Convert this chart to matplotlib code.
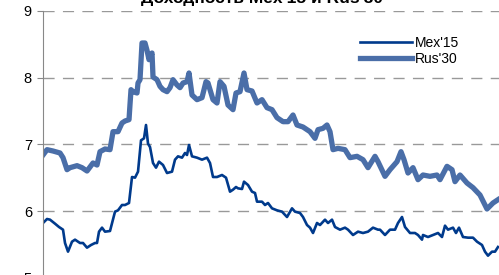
import matplotlib.pyplot as plt
import numpy as np

plt.rcParams['font.family'] = ['Liberation Sans', 'DejaVu Sans']

# trading days from start of the window
mex_day = [0, 4, 7, 12, 16, 20, 22, 25, 29, 32, 37, 40, 44, 48, 52, 54, 56, 59, 62, 67,
           72, 75, 79, 82, 86, 89, 92, 95, 98, 101, 103, 105, 107, 110, 113, 116, 120, 124,
           129, 132, 135, 139, 142, 144, 146, 149, 154, 159, 164, 167, 170, 174, 179, 183,
           187, 190, 193, 195, 199, 201, 205, 209, 212, 214, 219, 222, 225, 229, 234, 239,
           244, 249, 252, 257, 260, 264, 267, 270, 274, 277, 282, 285, 289, 292, 297, 302,
           305, 310, 315, 320, 325, 330, 335, 337, 342, 347, 352, 355, 359, 362, 367, 372,
           375, 379, 380, 385, 390, 395, 399, 402, 405, 410, 413, 416, 420, 425, 430, 434,
           439, 442, 445, 449, 452, 455]
mex_yld = [5.82, 5.88, 5.87, 5.81, 5.76, 5.72, 5.52, 5.39, 5.54, 5.57, 5.52, 5.52, 5.45,
           5.49, 5.52, 5.52, 5.69, 5.75, 5.69, 5.70, 5.99, 6.01, 6.09, 6.09, 6.12, 6.51,
           6.50, 6.59, 7.06, 7.09, 7.29, 7.01, 6.96, 6.72, 6.65, 6.74, 6.69, 6.57, 6.59,
           6.77, 6.82, 6.80, 6.87, 6.84, 6.99, 6.82, 6.80, 6.77, 6.80, 6.72, 6.51, 6.51,
           6.54, 6.50, 6.29, 6.32, 6.36, 6.34, 6.33, 6.44, 6.39, 6.29, 6.27, 6.14, 6.14,
           6.09, 6.12, 6.04, 6.01, 5.99, 5.91, 6.04, 5.99, 5.97, 5.91, 5.79, 5.75, 5.67,
           5.82, 5.79, 5.87, 5.82, 5.87, 5.76, 5.72, 5.75, 5.72, 5.64, 5.69, 5.67, 5.69,
           5.75, 5.72, 5.72, 5.64, 5.72, 5.72, 5.82, 5.91, 5.76, 5.67, 5.67, 5.64, 5.57,
           5.64, 5.61, 5.64, 5.67, 5.61, 5.78, 5.72, 5.75, 5.67, 5.75, 5.61, 5.60, 5.60,
           5.54, 5.49, 5.39, 5.33, 5.39, 5.39, 5.46]

rus_day = [0, 4, 10, 17, 20, 24, 27, 34, 39, 44, 50, 54, 57, 62, 67, 70, 75, 79, 82, 86,
           87, 88, 90, 94, 95, 97, 99, 102, 104, 106, 109, 110, 114, 117, 120, 124, 127, 130,
           134, 137, 140, 144, 146, 149, 154, 159, 163, 165, 170, 174, 177, 181, 185, 190,
           193, 197, 201, 204, 209, 214, 219, 224, 229, 234, 240, 245, 250, 254, 260, 267,
           272, 275, 280, 284, 287, 290, 295, 302, 307, 314, 320, 325, 332, 335, 342, 347,
           354, 358, 361, 365, 370, 375, 380, 387, 394, 397, 404, 409, 412, 417, 424, 430,
           437, 444, 450, 455]
rus_yld = [6.84, 6.92, 6.90, 6.87, 6.80, 6.62, 6.65, 6.68, 6.65, 6.60, 6.72, 6.69, 6.89,
           6.93, 6.92, 7.19, 7.19, 7.32, 7.35, 7.37, 7.60, 7.82, 7.79, 7.77, 7.92, 7.97,
           8.52, 8.52, 8.41, 8.27, 8.37, 8.01, 7.97, 7.87, 7.82, 7.79, 7.85, 7.97, 7.89,
           7.85, 7.92, 7.94, 8.07, 7.74, 7.67, 7.70, 7.94, 7.92, 7.67, 7.62, 7.94, 7.87,
           7.59, 7.52, 7.77, 7.79, 8.07, 7.82, 7.80, 7.62, 7.67, 7.55, 7.52, 7.40, 7.34,
           7.34, 7.44, 7.29, 7.26, 7.19, 7.09, 7.22, 7.24, 7.29, 7.19, 6.92, 6.94, 6.92,
           6.80, 6.82, 6.77, 6.65, 6.82, 6.74, 6.52, 6.62, 6.74, 6.89, 6.77, 6.57, 6.65,
           6.47, 6.54, 6.52, 6.54, 6.47, 6.67, 6.62, 6.44, 6.54, 6.42, 6.35, 6.24, 6.03,
           6.12, 6.17]

fig = plt.figure(figsize=(4.99, 2.75), dpi=100)
ax = fig.add_axes([0.0862, -0.0097, 0.9138, 0.9697])

ax.plot(mex_day, mex_yld, color='#003a8c', lw=1.9, label="Mex'15", solid_joinstyle='round')
ax.plot(rus_day, rus_yld, color='#4a6ea8', lw=3.8, label="Rus'30", solid_joinstyle='round')

ax.set_xlim(0, 456)
ax.set_ylim(5, 9)
ax.set_yticks([5, 6, 7, 8, 9])
ax.set_xticks([])
for v in [6, 7, 8, 9]:
    ax.axhline(v, color='#999999', lw=1, ls=(0, (8, 6)), zorder=0)

for s in ['top', 'right', 'bottom']:
    ax.spines[s].set_visible(False)
ax.spines['left'].set_color('#888888')
ax.tick_params(axis='y', length=4, color='#888888', labelsize=10.5, pad=4)

ax.legend(loc='upper left', bbox_to_anchor=(0.722, 0.87), bbox_transform=fig.transFigure,
          frameon=False, fontsize=10, handlelength=3.7, handletextpad=0.25,
          labelspacing=0.15, borderpad=0, borderaxespad=0)

# title sits mostly above the visible area, as in the source image
fig.text(0.525, 1 - 2.5 / 275, "Доходность Mex'15 и Rus'30", ha='center', va='baseline',
         fontsize=12.5, fontweight='bold')

fig.savefig('out.png', dpi=100)
